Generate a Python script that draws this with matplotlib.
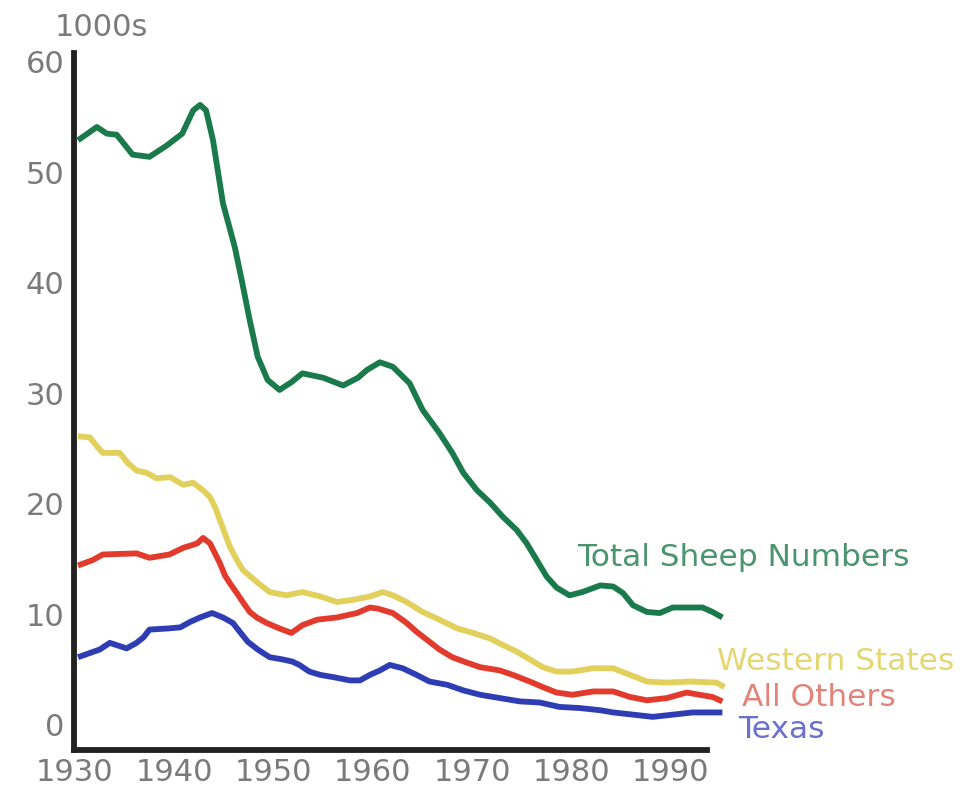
import matplotlib
matplotlib.use("Agg")
import matplotlib.pyplot as plt

# sheep numbers, 1000s
total_years = [1930.3, 1932.2, 1933.2, 1934.2, 1935.8, 1937.5, 1939.2, 1940.8, 1941.9, 1942.6,
               1943.2, 1943.9, 1944.9, 1946.1, 1946.8, 1947.6, 1948.4, 1949.4, 1950.6, 1951.8,
               1952.9, 1955.0, 1957.0, 1958.5, 1959.4, 1960.7, 1962.0, 1963.7, 1965.0, 1966.7,
               1968.0, 1969.1, 1970.5, 1971.8, 1973.1, 1974.5, 1975.5, 1976.5, 1977.5, 1978.5,
               1979.8, 1981.1, 1982.9, 1984.2, 1985.2, 1986.2, 1987.6, 1988.9, 1990.2, 1991.6,
               1993.2, 1994.2, 1995.2]
total_vals = [52.9, 54.1, 53.5, 53.4, 51.6, 51.4, 52.4, 53.5, 55.6, 56.1,
              55.6, 52.9, 47.2, 43.2, 40.2, 36.6, 33.3, 31.2, 30.3, 31.0,
              31.8, 31.4, 30.7, 31.4, 32.1, 32.8, 32.4, 30.9, 28.5, 26.4,
              24.6, 22.8, 21.2, 20.1, 18.8, 17.6, 16.4, 14.9, 13.4, 12.4,
              11.7, 12.0, 12.6, 12.5, 11.9, 10.8, 10.2, 10.1, 10.6, 10.6,
              10.6, 10.2, 9.7]

western_years = [1930.3, 1931.5, 1932.3, 1932.8, 1934.5, 1935.3, 1936.2, 1937.2, 1938.2, 1939.6,
                 1940.9, 1941.9, 1942.9, 1943.6, 1944.1, 1944.6, 1945.1, 1945.6, 1946.3, 1946.9,
                 1947.8, 1948.6, 1949.6, 1951.3, 1952.9, 1954.7, 1956.4, 1958.0, 1959.7, 1961.0,
                 1962.0, 1963.4, 1965.0, 1966.7, 1968.5, 1970.1, 1971.8, 1973.1, 1974.5, 1975.8,
                 1977.1, 1978.5, 1980.1, 1982.2, 1984.2, 1985.9, 1987.6, 1989.6, 1991.9, 1994.6,
                 1995.4]
western_vals = [26.1, 26.0, 25.1, 24.6, 24.6, 23.7, 23.0, 22.8, 22.3, 22.4,
                21.7, 21.9, 21.2, 20.6, 19.7, 18.5, 17.3, 16.1, 14.9, 14.0,
                13.3, 12.7, 12.0, 11.7, 12.0, 11.6, 11.1, 11.3, 11.6, 12.0,
                11.7, 11.1, 10.2, 9.5, 8.7, 8.3, 7.8, 7.2, 6.6, 5.9,
                5.2, 4.8, 4.8, 5.1, 5.1, 4.5, 3.9, 3.8, 3.9, 3.8,
                3.4]

others_years = [1930.3, 1931.8, 1932.8, 1936.2, 1937.5, 1939.5, 1940.9, 1942.3, 1942.9, 1943.6,
                1944.1, 1944.6, 1945.1, 1945.6, 1946.3, 1946.9, 1947.6, 1948.3, 1949.3, 1950.6,
                1951.8, 1952.9, 1954.4, 1956.4, 1958.4, 1959.7, 1960.5, 1962.0, 1963.4, 1964.4,
                1965.7, 1966.7, 1968.0, 1969.5, 1970.8, 1972.8, 1974.1, 1975.8, 1977.1, 1978.5,
                1980.1, 1982.2, 1984.2, 1985.9, 1987.6, 1989.6, 1991.6, 1994.2, 1995.2]
others_vals = [14.4, 14.9, 15.4, 15.5, 15.1, 15.4, 16.0, 16.4, 16.9, 16.4,
               15.5, 14.6, 13.5, 12.8, 11.9, 11.1, 10.2, 9.7, 9.2, 8.7,
               8.3, 9.0, 9.5, 9.7, 10.1, 10.6, 10.5, 10.1, 9.2, 8.4,
               7.5, 6.8, 6.1, 5.6, 5.2, 4.9, 4.5, 3.9, 3.4, 2.9,
               2.7, 3.0, 3.0, 2.5, 2.2, 2.4, 2.9, 2.5, 2.1]

texas_years = [1930.3, 1932.5, 1933.5, 1935.2, 1936.2, 1936.9, 1937.5, 1939.3, 1940.6, 1941.6,
               1942.6, 1943.8, 1944.9, 1945.9, 1946.6, 1947.4, 1948.4, 1949.6, 1950.9, 1951.9,
               1952.6, 1953.6, 1954.7, 1956.0, 1957.7, 1958.7, 1959.7, 1960.7, 1961.7, 1963.0,
               1964.4, 1965.7, 1967.5, 1969.1, 1970.8, 1972.8, 1974.8, 1976.8, 1978.8, 1980.8,
               1982.9, 1984.2, 1986.2, 1988.2, 1990.2, 1992.2, 1995.2]
texas_vals = [6.1, 6.8, 7.4, 6.9, 7.4, 7.9, 8.6, 8.7, 8.8, 9.3,
              9.7, 10.1, 9.7, 9.2, 8.4, 7.5, 6.8, 6.1, 5.9, 5.7,
              5.4, 4.8, 4.5, 4.3, 4.0, 4.0, 4.5, 4.9, 5.4, 5.1,
              4.5, 3.9, 3.6, 3.1, 2.7, 2.4, 2.1, 2.0, 1.6, 1.5,
              1.3, 1.1, 0.9, 0.7, 0.9, 1.1, 1.1]

x_ticks = [1930, 1940, 1950, 1960, 1970, 1980, 1990]
y_ticks = [0, 10, 20, 30, 40, 50, 60]

W, H = 965, 790
fig = plt.figure(figsize=(W / 100, H / 100), dpi=100)
ax = fig.add_axes([74 / W, 1 - 750 / H, (707 - 74) / W, (750 - 53) / H])

series = [
    (total_years, total_vals, '#1b7a4c'),
    (western_years, western_vals, '#e2d05c'),
    (others_years, others_vals, '#e23b2e'),
    (texas_years, texas_vals, '#2f3db4'),
]
for xs, ys, c in series:
    ax.plot(xs, ys, color=c, lw=4.2, solid_joinstyle='round',
            solid_capstyle='butt', clip_on=False, zorder=3)

ax.set_xlim(1929.9, 1993.65)
ax.set_ylim(-2.3, 60.8)
ax.set_xticks(x_ticks)
ax.set_yticks(y_ticks)
ax.tick_params(length=0, labelsize=22, labelcolor='#7a7a7a')
ax.tick_params(axis='x', pad=6)
ax.tick_params(axis='y', pad=7)

for s in ['top', 'right']:
    ax.spines[s].set_visible(False)
for s in ['left', 'bottom']:
    ax.spines[s].set_linewidth(4.2)
    ax.spines[s].set_color('#222222')
    ax.spines[s].set_capstyle('projecting')

fig.text(55 / W, 1 - 28 / H, '1000s', fontsize=22, color='#7a7a7a', va='center', ha='left')

labels = [
    ('Total Sheep Numbers', 577, 558, '#4a9470'),
    ('Western States', 717, 661, '#e4d672'),
    ('All Others', 742, 697, '#e2837a'),
    ('Texas', 738, 730, '#6a70cc'),
]
for txt, px, py, c in labels:
    fig.text(px / W, 1 - py / H, txt, fontsize=22.5, color=c, va='center', ha='left')

fig.savefig('out.png', dpi=100)
